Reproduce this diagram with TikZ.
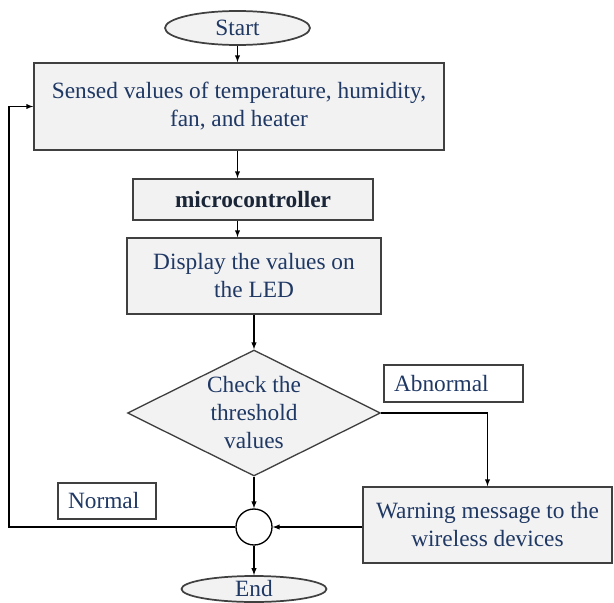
\documentclass[tikz,border=0pt]{standalone}
\usepackage[table]{xcolor}
\usepackage{fontspec}
\setmainfont{Liberation Serif}
\usepackage{tikz}
\usetikzlibrary{shapes.geometric}

\definecolor{boxfill}{RGB}{242,242,242}
\definecolor{boxline}{RGB}{64,64,64}
\definecolor{txtblue}{RGB}{31,56,100}
\definecolor{txtdark}{RGB}{26,38,56}

\tikzset{
	every node/.style={font=\fontsize{17.5}{21}\selectfont, text=txtblue},
	term/.style={ellipse, draw=boxline, line width=1.3pt, fill=boxfill, inner sep=0pt},
	procbox/.style={rectangle, draw=boxline, line width=1.2pt, fill=boxfill, inner sep=0pt, align=center},
	decision/.style={diamond, draw=boxline, line width=1pt, fill=boxfill, inner sep=0pt},
	tagbox/.style={rectangle, draw=boxline, line width=0.9pt, fill=white, inner xsep=7.5pt, inner ysep=0pt, align=left},
	junction/.style={circle, draw=black, line width=1pt, fill=white, inner sep=0pt, minimum size=27pt},
	flow/.style={draw=black, -latex, line width=0.8pt, solid},
}

\begin{document}
\begin{tikzpicture}[x=0.75pt, y=-0.75pt]
		\useasboundingbox (0,0) rectangle (614,603);
		\node[term, minimum width=108.75pt, minimum height=25.5pt] (start) at (237.5,28) {Start};
		\node[procbox, minimum width=307.5pt, minimum height=65.25pt] (sensed) at (239,106.5) {Sensed values of temperature, humidity,\\fan, and heater};
		\node[procbox, minimum width=180pt, minimum height=30.75pt, text=txtdark, font=\fontsize{17.5}{21}\selectfont\bfseries] (micro) at (253,199.5) {microcontroller};
		\node[procbox, minimum width=190.5pt, minimum height=57pt] (display) at (254,276) {Display the values on\\the LED};
		\node[decision, minimum width=189.75pt, minimum height=94.5pt] (check) at (254,413) {};
		\node[align=center, inner sep=0pt] (checktext) at (check.center) {Check the\\threshold\\values};
		\node[tagbox, text width=89.25pt, minimum height=27.75pt] (abnormal) at (453.5,383.5) {Abnormal};
		\node[tagbox, text width=58.5pt, minimum height=27pt] (normal) at (107,501) {Normal};
		\node[procbox, minimum width=186.75pt, minimum height=57pt] (warn) at (487.5,525) {Warning message to the\\wireless devices};
		\node[junction] (junc) at (254,527) {};
		\node[term, minimum width=108.75pt, minimum height=19.5pt] (end) at (254,589) {End};
		\coordinate (loopcorner) at (9,527);
		\draw[flow] (start.south) -- (start.south |- sensed.north);
		\draw[flow] (sensed.south -| start) -- (micro.north -| start);
		\draw[flow] (micro.south -| start) -- (display.north -| start);
		\draw[flow] (display.south) -- (check.north);
		\draw[flow] (check.east) -| (warn.north);
		\draw[flow] (check.south) -- (junc.north);
		\draw[flow] (warn.west |- junc) -- (junc.east);
		\draw[flow] (junc.west) -- (loopcorner) |- (sensed.west);
		\draw[flow] (junc.south) -- (end.north);
	\end{tikzpicture}
\end{document}
